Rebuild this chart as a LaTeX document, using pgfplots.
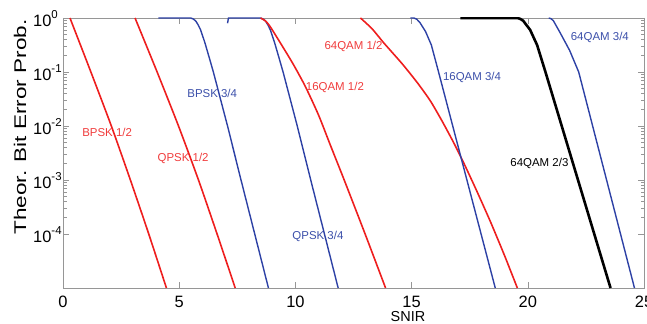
\documentclass[border=0pt]{standalone}
\usepackage{pgfplots}
\pgfplotsset{compat=1.18}
\usepackage{fontspec}
\setmainfont{Liberation Sans}
\definecolor{cred}{RGB}{238,30,30}
\definecolor{cblue}{RGB}{45,65,165}
\definecolor{lred}{RGB}{240,60,60}
\definecolor{lblue}{RGB}{60,80,170}
\definecolor{axgray}{RGB}{150,150,150}
\newcommand{\tl}[1]{10\raisebox{8bp}{\fontsize{11.5}{12}\selectfont #1}}
\begin{document}
\begin{tikzpicture}
\useasboundingbox (0,0) rectangle (647bp,324bp);
\begin{axis}[at={(63bp,36bp)}, anchor=south west, scale only axis,
  width=581bp, height=270bp,
  xmin=0, xmax=25, ymin=1e-5, ymax=1, ymode=log,
  xtick={0,5,10,15,20,25}, xticklabels={0,5,10,15,20,25}, minor x tick num=0,
  ytick={1e-4,1e-3,1e-2,1e-1,1},
  yticklabels={\tl{-4},\tl{-3},\tl{-2},\tl{-1},\tl{0}},
  tick align=inside, major tick length=6bp, minor tick length=3.5bp,
  axis line style={axgray, line width=0.9bp},
  tick style={axgray, line width=0.6bp},
  ticklabel style={font=\fontsize{16.5}{17}\selectfont, text=black, inner sep=0pt},
  xticklabel style={anchor=base, yshift=-19.5bp},
  yticklabel style={anchor=base west, xshift=-30bp, yshift=-8.5bp},
]
% BPSK 1/2
\addplot[cred, line width=1.6bp, smooth, tension=0.4] coordinates {
 (0.3,1) (1.2,0.1) (2.08,0.01) (2.9,1e-3) (3.69,1e-4) (4.45,1e-5)};
% QPSK 1/2
\addplot[cred, line width=1.6bp, smooth, tension=0.4] coordinates {
 (3.1,1) (4.05,0.1) (4.97,0.01) (5.83,1e-3) (6.63,1e-4) (7.41,1e-5)};
% BPSK 3/4
\addplot[cblue, line width=1.4bp] coordinates {
 (4.1,1) (5.5,1) (5.62,0.95) (5.72,0.871) (5.82,0.74) (5.92,0.603) (6.1,0.355) (6.3,0.18) (6.47,0.1)
 (7.08,0.01) (7.66,1e-3) (8.25,1e-4) (8.84,1e-5)};
% QPSK 3/4
\addplot[cblue, line width=1.4bp] coordinates {
 (7.08,0.8) (7.12,1) (8.5,1) (8.62,0.95) (8.72,0.871) (8.82,0.74) (8.92,0.603) (9.1,0.355) (9.3,0.18) (9.47,0.1)
 (10.08,0.01) (10.66,1e-3) (11.25,1e-4) (11.84,1e-5)};
% 16QAM 1/2
\addplot[cred, line width=1.6bp, smooth, tension=0.4] coordinates {
 (8.5,1) (8.7,0.891) (8.9,0.708) (9.35,0.347) (9.9,0.141) (10.43,0.0537) (11.0,0.0158)
 (11.5,4.47e-3) (12.1,1e-3) (13.0,1e-4) (13.88,1e-5)};
% 64QAM 1/2
\addplot[cred, line width=1.6bp, smooth, tension=0.4] coordinates {
 (12.8,1) (13.3,0.631) (13.8,0.347) (14.6,0.141) (15.25,0.0631) (15.8,0.0295) (16.3,0.0126)
 (16.8,5.01e-3) (17.25,2.04e-3) (17.8,6.31e-4) (18.4,1.66e-4) (19.0,3.98e-5) (19.55,1e-5)};
% 16QAM 3/4
\addplot[cblue, line width=1.4bp] coordinates {
 (14.95,1) (15.1,1) (15.22,0.95) (15.35,0.832) (15.6,0.562) (15.85,0.316) (16.16,0.1)
 (16.77,0.01) (17.38,1e-3) (17.99,1e-4) (18.6,1e-5)};
% 64QAM 2/3
\addplot[black, line width=2.6bp] coordinates {
 (17.1,1) (19.55,1) (19.68,0.96) (19.8,0.891) (20.1,0.603) (20.4,0.316) (20.76,0.1)
 (21.46,0.01) (22.16,1e-3) (22.86,1e-4) (23.56,1e-5)};
% 64QAM 3/4
\addplot[cblue, line width=1.4bp] coordinates {
 (20.9,1) (21.0,0.97) (21.1,0.891) (21.4,0.525) (21.8,0.251) (22.19,0.1)
 (22.79,0.01) (23.39,1e-3) (23.99,1e-4) (24.59,1e-5)};
\begin{scope}[every node/.style={font=\fontsize{11.5}{12}\selectfont, inner sep=0pt}]
\node[text=lred] at (axis cs:1.9,7.76e-3) {BPSK 1/2};
\node[text=lred] at (axis cs:5.17,2.51e-3) {QPSK 1/2};
\node[text=lblue] at (axis cs:6.42,0.0407) {BPSK 3/4};
\node[text=lred] at (axis cs:11.7,0.0525) {16QAM 1/2};
\node[text=lred] at (axis cs:12.5,0.295) {64QAM 1/2};
\node[text=lblue] at (axis cs:17.6,0.0794) {16QAM 3/4};
\node[text=lblue] at (axis cs:23.1,0.437) {64QAM 3/4};
\node[text=black] at (axis cs:20.5,2.0e-3) {64QAM 2/3};
\node[text=lblue] at (axis cs:10.97,8.9e-5) {QPSK 3/4};
\end{scope}
\end{axis}
\node[rotate=90, font=\fontsize{17}{17}\selectfont, inner sep=0pt] at (20bp,197bp) {\scalebox{1.33}[1]{Theor. Bit Error Prob.}};
\node[anchor=base, font=\fontsize{14.5}{15}\selectfont, inner sep=0pt] at (408bp,3bp) {SNIR};
\end{tikzpicture}
\end{document}
